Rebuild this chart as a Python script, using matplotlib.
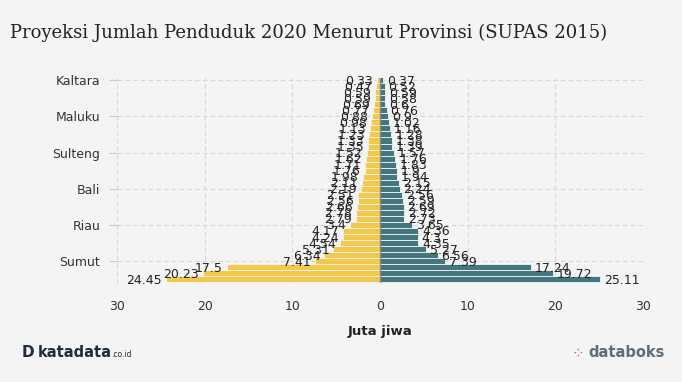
import matplotlib
matplotlib.use("Agg")
import matplotlib.pyplot as plt
import numpy as np

# provinces, top to bottom (smallest to largest)
provinces = ["Kaltara", "Papua Barat", "Gorontalo", "Malut", "Sulbar", "Babel",
             "Maluku", "Bengkulu", "Kepri", "Sulut", "Sultra", "Kalteng",
             "Sulteng", "Papua", "Jambi", "Kaltim", "DIY", "Kalsel", "Bali",
             "Kalbar", "NTB", "Aceh", "Sumbar", "NTT", "Riau", "Lampung",
             "Sumsel", "Sulsel", "DKI Jakarta", "Banten", "Sumut", "Jateng",
             "Jatim", "Jabar"]
left_vals = [0.33, 0.47, 0.59, 0.59, 0.69, 0.77, 0.88, 0.98, 1.13, 1.23, 1.33,
             1.35, 1.52, 1.62, 1.71, 1.76, 1.98, 2.11, 2.19, 2.51, 2.56, 2.66,
             2.78, 2.79, 3.4, 4.17, 4.24, 4.54, 5.31, 6.34, 7.41, 17.5, 20.23,
             24.45]
right_vals = [0.37, 0.52, 0.59, 0.58, 0.6, 0.76, 0.9, 1.02, 1.16, 1.28, 1.38,
              1.39, 1.57, 1.76, 1.83, 1.9, 1.94, 2.15, 2.24, 2.56, 2.59, 2.69,
              2.72, 2.73, 3.65, 4.36, 4.3, 4.35, 5.27, 6.56, 7.39, 17.24, 19.72,
              25.11]
shown_ticks = ["Kaltara", "Maluku", "Sulteng", "Bali", "Riau", "Sumut"]
x_ticks = [-30, -20, -10, 0, 10, 20, 30]

BG = "#f4f4f4"
YELLOW = "#f3c84b"
TEAL = "#44767e"

fig = plt.figure(figsize=(6.82, 3.82), dpi=100, facecolor=BG)
ax = fig.add_axes([0.1716, 0.2592, 0.7712, 0.5366], facecolor=BG)

n = len(provinces)
ypos = np.arange(n)[::-1]  # first province on top
left = np.array(left_vals)
right = np.array(right_vals)

ax.barh(ypos, -left, height=1.0, color=YELLOW, edgecolor=BG, linewidth=0.6, zorder=2)
ax.barh(ypos, right, height=1.0, color=TEAL, edgecolor=BG, linewidth=0.6, zorder=2)

# value labels (they overlap like in the original)
for y, l, r in zip(ypos, left_vals, right_vals):
    ax.text(-l - 0.45, y - 0.15, f"{l:g}", ha="right", va="center",
            fontsize=9, color="#222222", zorder=3)
    ax.text(r + 0.45, y - 0.15, f"{r:g}", ha="left", va="center",
            fontsize=9, color="#222222", zorder=3)

ax.axvline(0, color="#8a8a8a", linewidth=1, zorder=3)

ax.set_xlim(-30, 30)
ax.set_ylim(-0.6, n - 0.65)
ax.set_xticks(x_ticks)
ax.set_xticklabels([str(abs(v)) for v in x_ticks])
tick_pos = [ypos[provinces.index(p)] for p in shown_ticks]
ax.set_yticks(tick_pos)
ax.set_yticklabels(shown_ticks)

ax.grid(True, color="#d6d6d6", linestyle=(0, (4, 3)), linewidth=0.8, zorder=0)
for s in ax.spines.values():
    s.set_visible(False)
ax.tick_params(axis="x", length=0, pad=12, labelsize=9, labelcolor="#333333")
ax.tick_params(axis="y", length=6, width=0.8, color="#cccccc", pad=6,
               labelsize=9, labelcolor="#333333")

ax.set_xlabel("Juta jiwa", fontsize=9.5, fontweight="bold", color="#222222", labelpad=9)

fig.text(0.015, 0.913, "Proyeksi Jumlah Penduduk 2020 Menurut Provinsi (SUPAS 2015)",
         fontsize=13, family="DejaVu Serif", color="#222222", va="center")

# footer logos
fig.text(0.032, 0.076, "D", fontsize=11, fontweight="bold", color="#1f2d3d", va="center")
fig.text(0.055, 0.076, "katadata", fontsize=10.5, fontweight="bold", color="#1f2d3d", va="center")
fig.text(0.163, 0.072, ".co.id", fontsize=5.5, color="#1f2d3d", va="center")
fig.text(0.838, 0.076, "\u2058", fontsize=11, color="#e05a4e", va="center")
fig.text(0.862, 0.076, "databoks", fontsize=10.5, fontweight="bold", color="#5b6e7e", va="center")

fig.savefig("out.png", dpi=100, facecolor=BG)
